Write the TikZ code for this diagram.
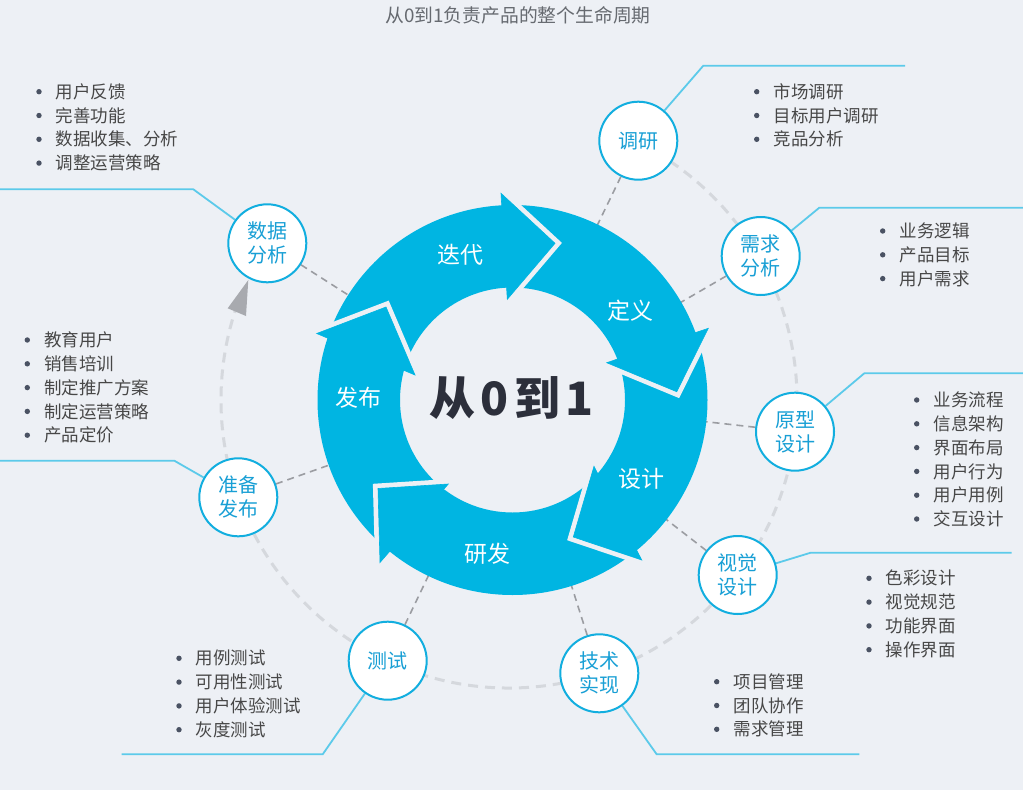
\documentclass[tikz,border=0pt]{standalone}
\usepackage{fontspec}
\setmainfont{Noto Sans CJK SC}
\usetikzlibrary{calc}
\definecolor{bgc}{HTML}{EDF0F5}
\definecolor{ringc}{HTML}{00B5E2}
\definecolor{stageline}{HTML}{12AEDF}
\definecolor{stagetext}{HTML}{189FD5}
\definecolor{calloutc}{HTML}{5CCAEA}
\definecolor{spokec}{HTML}{9B9DA2}
\definecolor{orbitc}{HTML}{D5D8DD}
\definecolor{tipc}{HTML}{A8AAAF}
\definecolor{itemtext}{HTML}{474747}
\definecolor{dotc}{HTML}{4A5263}
\definecolor{titlec}{HTML}{666A70}
\definecolor{heroc}{HTML}{2C2F3B}
\pgfdeclarelayer{back}
\pgfsetlayers{back,main}
\tikzset{
  stage/.style={circle, draw=stageline, line width=2pt, fill=white, minimum size=78pt,
    inner sep=0pt, align=center, text=stagetext, font=\fontsize{20}{24}\selectfont},
  ringlabel/.style={text=white, inner sep=0pt, font=\fontsize{23}{23}\selectfont},
  item/.style={anchor=west, inner sep=0pt, text=itemtext, font=\fontsize{17.5}{20}\selectfont},
  callout/.style={draw=calloutc, line width=1.8pt},
  spoke/.style={draw=spokec, line width=1.6pt, dash pattern=on 7pt off 5pt},
  orbitline/.style={draw=orbitc, line width=3pt, dash pattern=on 10pt off 7pt},
  gapline/.style={draw=bgc, line width=10pt, line join=miter},
  head/.style={fill=ringc, draw=ringc, line width=0.6pt},
}
\newcommand{\bulletlist}[4]{%
  \foreach \t [count=\i from 0] in {#4}{
    \fill[dotc] (#2,{#3+23.8*\i}) circle (2.7);
    \node[item] (#1-\i) at ({#2+16.6},{#3+23.8*\i}) {\t};
  }}
\begin{document}
\begin{tikzpicture}[x=1pt, y=-1pt]
\useasboundingbox (0,0) rectangle (1023,790);
\begin{pgfonlayer}{back}
\fill[bgc] (0,0) rectangle (1023,790);
\end{pgfonlayer}
\coordinate (ctr) at (512.5,400);
\coordinate (orbit) at (509,400);
\node[text=titlec, font=\fontsize{18.8}{18.8}\selectfont] (title) at (518,15) {从0到1负责产品的整个生命周期};
% ring
\fill[ringc, even odd rule] (ctr) circle (195) (ctr) circle (112.5);
\draw[gapline] (501,193.3) -- (555,243.3) -- (507.3,299.3);
\draw[gapline] (708.3,328.3) -- (676.7,391.7) -- (606.7,362.7);
\draw[gapline] (641.7,560) -- (573.3,537) -- (594,466.3);
\draw[gapline] (380,562.5) -- (378,488.5) -- (448.3,484);
\draw[gapline] (316.7,333.5) -- (386,307) -- (415,375);
\path[head] (501,193.3) -- (555,243.3) -- (507.3,299.3) -- cycle;
\path[head] (708.3,328.3) -- (676.7,391.7) -- (606.7,362.7) -- cycle;
\path[head] (641.7,560) -- (573.3,537) -- (594,466.3) -- cycle;
\path[head] (380,562.5) -- (378,488.5) -- (448.3,484) -- cycle;
\path[head] (316.7,333.5) -- (386,307) -- (415,375) -- cycle;
\node[ringlabel] (iter) at (460.7,255) {迭代};
\node[ringlabel] (define) at (630,310.7) {定义};
\node[ringlabel] (design) at (641.7,479.3) {设计};
\node[ringlabel] (develop) at (487.7,553.3) {研发};
\node[ringlabel] (release) at (358.3,397.3) {发布};
\node[text=heroc, font=\fontsize{46}{46}\selectfont\bfseries] (hero) at (511.7,398.3) {从\kern5pt0\kern6pt到\kern5pt1};
% stages
\node[stage] (research) at (638.3,140.7) {调研};
\node[stage] (demand) at (760.7,256) {需求\\分析};
\node[stage] (proto) at (795,431.7) {原型\\设计};
\node[stage] (visual) at (737.7,575) {视觉\\设计};
\node[stage] (tech) at (599.3,673.3) {技术\\实现};
\node[stage] (test) at (387.7,660.7) {测试};
\node[stage] (prep) at (238.3,497.3) {准备\\发布};
\node[stage] (data) at (267.3,243.3) {数据\\分析};
% lists
\bulletlist{rl}{756.7}{91.7}{市场调研,目标用户调研,竞品分析}
\bulletlist{dl}{882.7}{231}{业务逻辑,产品目标,用户需求}
\bulletlist{pl}{916.7}{400}{业务流程,信息架构,界面布局,用户行为,用户用例,交互设计}
\bulletlist{vl}{869}{578.3}{色彩设计,视觉规范,功能界面,操作界面}
\bulletlist{tl}{716.7}{681.7}{项目管理,团队协作,需求管理}
\bulletlist{sl}{179}{658.3}{用例测试,可用性测试,用户体验测试,灰度测试}
\bulletlist{bl}{27.3}{340}{教育用户,销售培训,制定推广方案,制定运营策略,产品定价}
\bulletlist{al}{39}{91.7}{用户反馈,完善功能,数据收集、分析,调整运营策略}
\coordinate (research-end) at (905,65.7);
\coordinate (demand-end) at (1023,207.7);
\coordinate (proto-end) at (1023,373.3);
\coordinate (visual-end) at (1011.7,552.7);
\coordinate (tech-end) at (859.3,754.3);
\coordinate (test-end) at (121.7,754.3);
\coordinate (prep-end) at (0,460.7);
\coordinate (data-end) at (0,189.3);
\begin{pgfonlayer}{back}
\draw[orbitline] ($(orbit)+(-56:288)$) arc[start angle=-56, end angle=198, radius=288];
\fill[tipc] (248.3,280) -- (227.7,308.3) -- (246,316) -- cycle;
\foreach \s in {research,demand,proto,visual,tech,test,prep,data}
  \draw[spoke] (\s) -- ($(ctr)!150pt!(\s)$);
\draw[callout] (research) -- (703.3,65.7) -- (research-end);
\draw[callout] (demand) -- (819.3,207.7) -- (demand-end);
\draw[callout] (proto) -- (864.3,373.3) -- (proto-end);
\draw[callout] (visual) -- (810.7,552.7) -- (visual-end);
\draw[callout] (tech) -- (656.7,754.3) -- (tech-end);
\draw[callout] (test) -- (322.7,754.3) -- (test-end);
\draw[callout] (prep) -- (174.3,460.7) -- (prep-end);
\draw[callout] (data) -- (193.3,189.3) -- (data-end);
\end{pgfonlayer}
\end{tikzpicture}
\end{document}
